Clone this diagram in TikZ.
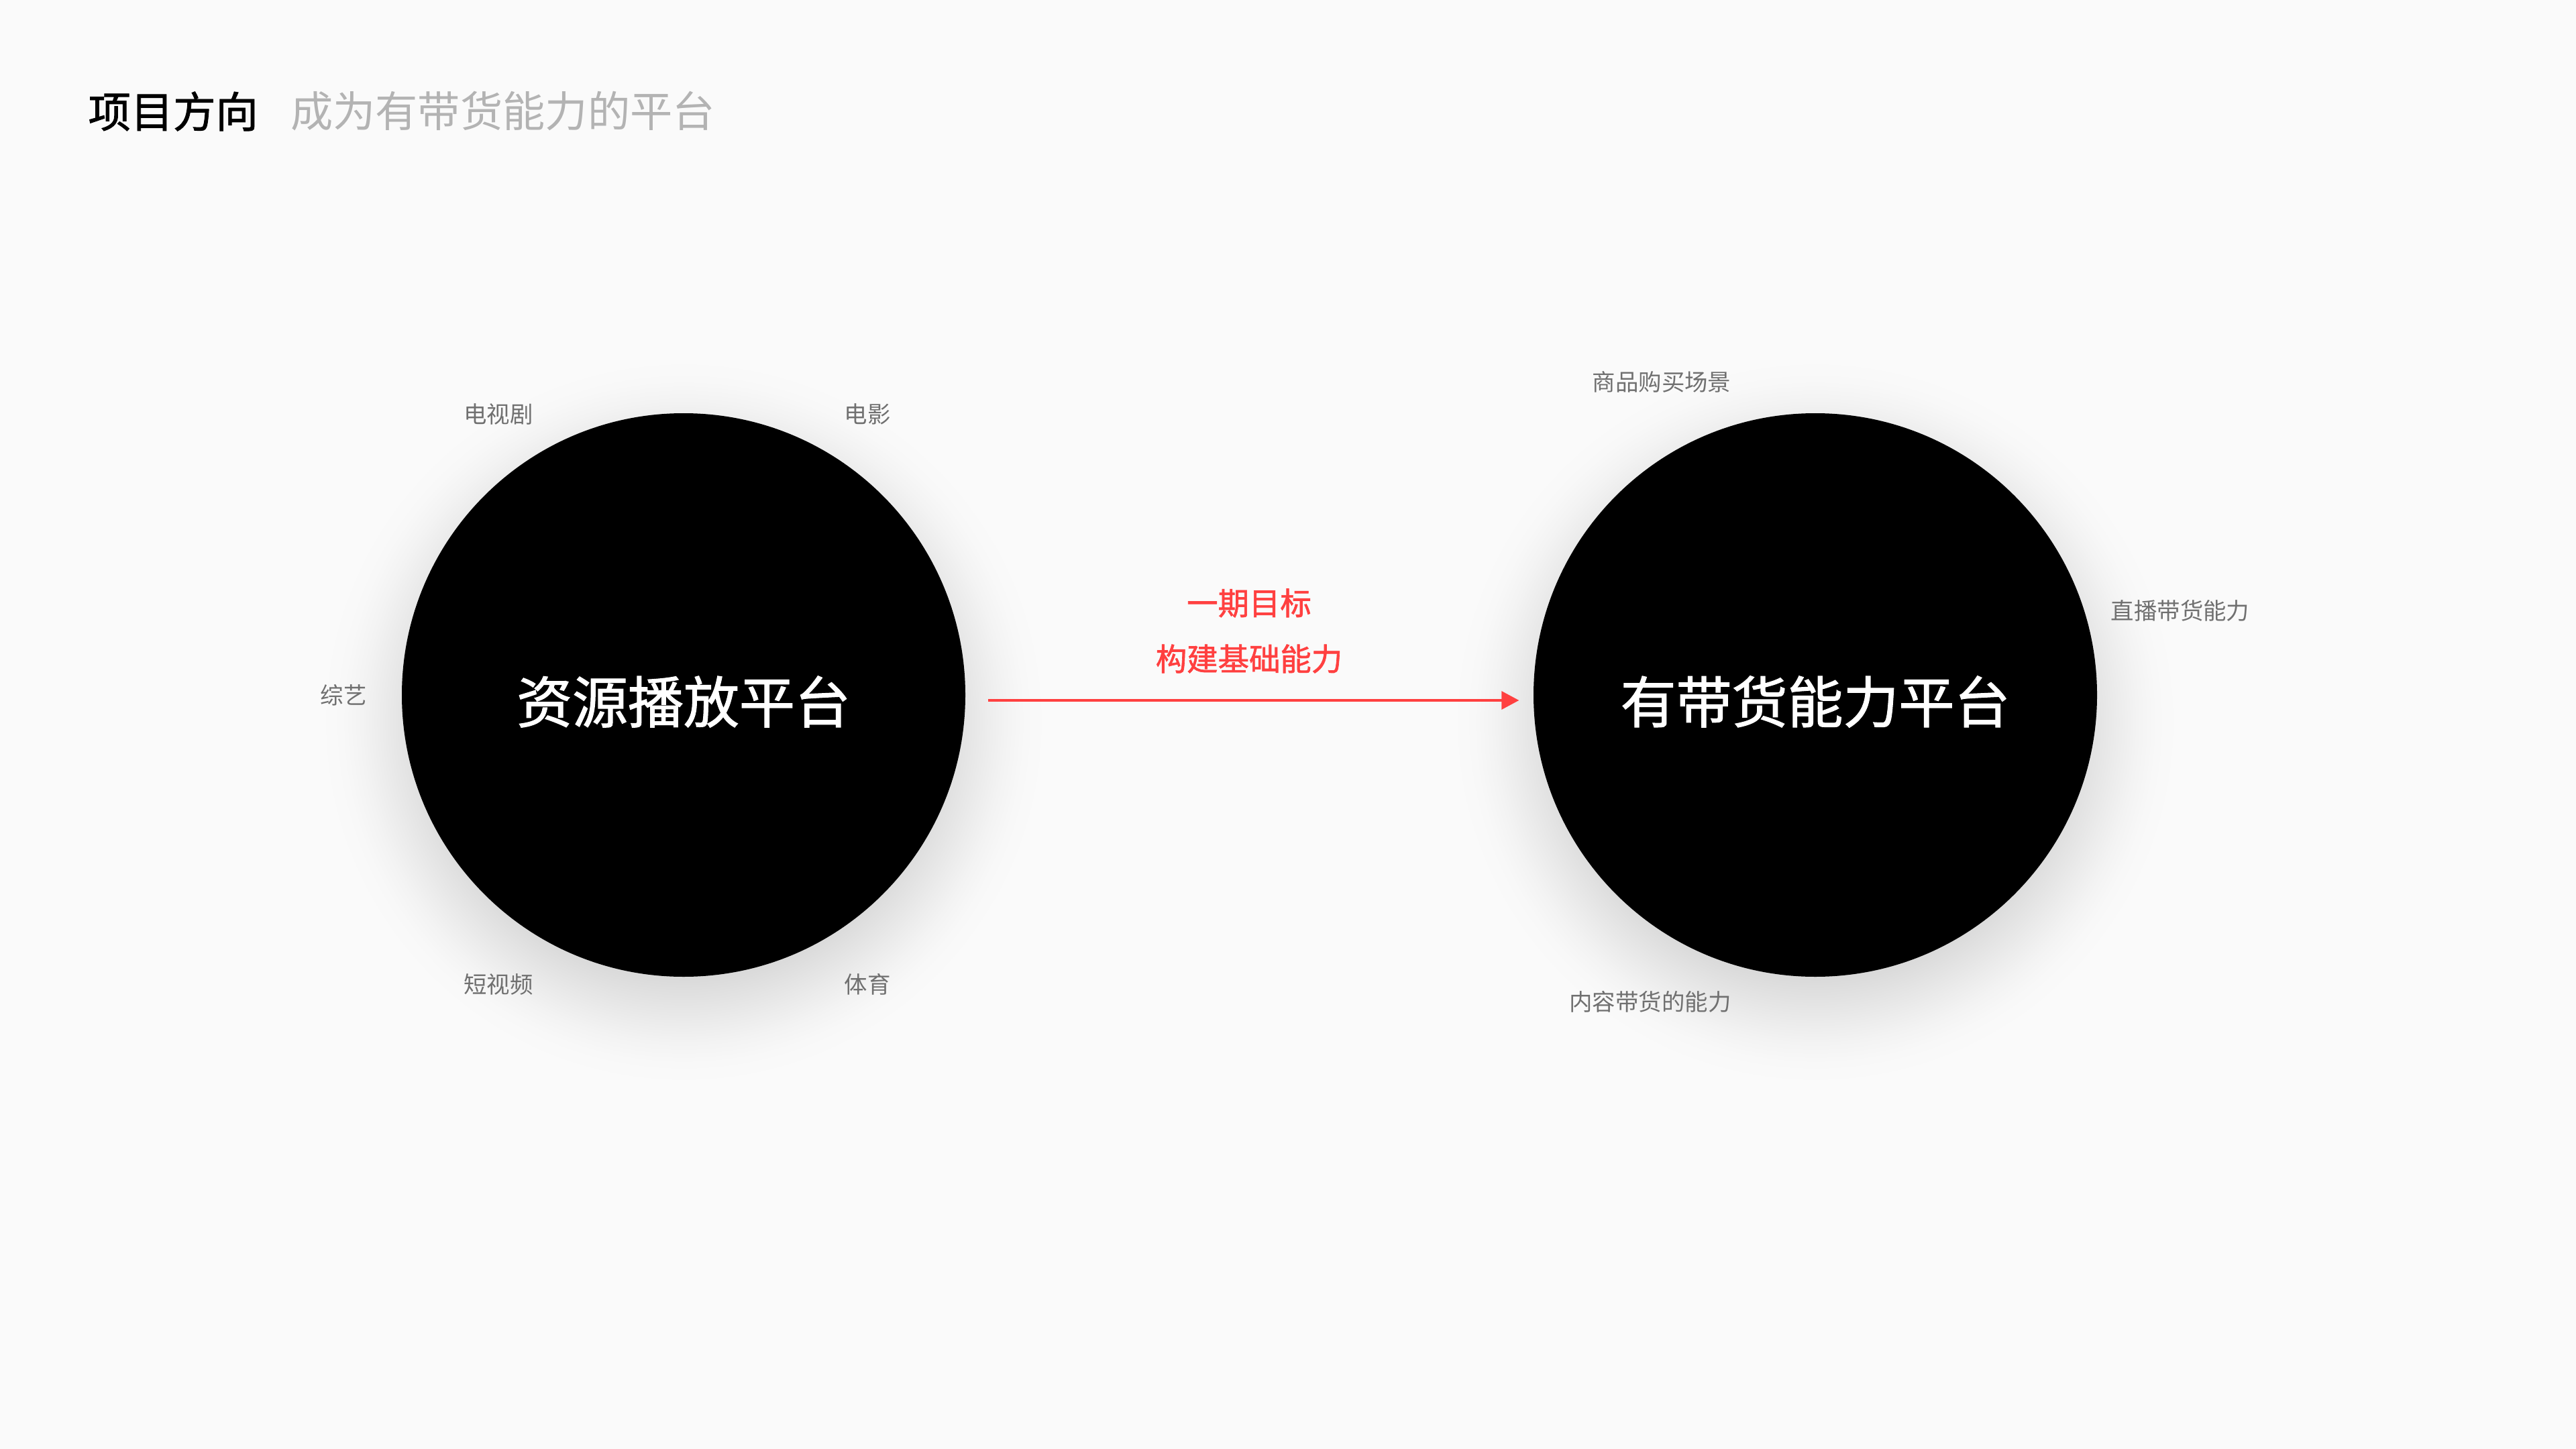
\documentclass[tikz,border=0pt]{standalone}
\usepackage{fontspec}
\setmainfont{Noto Sans CJK SC}
\newfontfamily\cjkmed[FakeBold=1.4]{Noto Sans CJK SC}
\usetikzlibrary{arrows.meta,positioning}
\definecolor{bgwhite}{RGB}{250,250,250}
\definecolor{titlegray}{RGB}{179,179,179}
\definecolor{labelgray}{RGB}{112,112,112}
\definecolor{goalred}{RGB}{255,64,64}
\pgfdeclareradialshading{platshadow}{\pgfpoint{0bp}{0bp}}{%
  gray(0bp)=(0.83); gray(16.65bp)=(0.83); gray(18.05bp)=(0.862); gray(19.45bp)=(0.894);
  gray(20.85bp)=(0.925); gray(22.2bp)=(0.953); gray(23.6bp)=(0.973); gray(25bp)=(0.98);
  gray(50bp)=(0.98)}

\begin{document}
\begin{tikzpicture}[
  platnode/.style={circle, fill=black, text=white, minimum size=8.4cm, inner sep=0pt,
    font=\cjkmed\fontsize{23.6pt}{28pt}\selectfont},
  shadowdisc/.style={shading=platshadow},
  tagnode/.style={inner sep=0pt, text=labelgray, font=\fontsize{9.8pt}{12pt}\selectfont},
  goalnode/.style={inner sep=0pt, text=goalred, font=\cjkmed\fontsize{13.2pt}{16pt}\selectfont}]
\fill[bgwhite] (0,0) rectangle (38.4,-21.6);
\useasboundingbox (0,0) rectangle (38.4,-21.6);
% Title
\node[inner sep=0pt, anchor=west, font=\cjkmed\fontsize{18pt}{22pt}\selectfont] (title) at (1.31,-1.66) {项目方向};
\node[inner sep=0pt, anchor=west, right=0.47cm of title, text=titlegray, font=\fontsize{18pt}{22pt}\selectfont] (subtitle) {成为有带货能力的平台};
% Platforms
\coordinate (playc) at (10.19,-10.36);
\coordinate (goodsc) at (27.06,-10.36);
\shade[shadowdisc] ([yshift=-0.4cm]playc) circle (5.4cm);
\shade[shadowdisc] ([yshift=-0.4cm]goodsc) circle (5.4cm);
\node[platnode] (playplat) at (playc) {\raisebox{-0.1cm}[\height][\depth]{资源播放平台}};
\node[platnode] (goodsplat) at (goodsc) {\raisebox{-0.1cm}[\height][\depth]{有带货能力平台}};
% Resources around the left circle
\node[tagnode] (tv) at (7.43,-6.17) {电视剧};
\node[tagnode] (film) at (12.93,-6.17) {电影};
\node[tagnode] (variety) at (5.12,-10.36) {综艺};
\node[tagnode] (shortvid) at (7.43,-14.67) {短视频};
\node[tagnode] (sports) at (12.93,-14.67) {体育};
% Abilities around the right circle
\node[tagnode] (scene) at (24.77,-5.69) {商品购买场景};
\node[tagnode] (live) at (32.50,-9.10) {直播带货能力};
\node[tagnode] (content) at (24.60,-14.93) {内容带货的能力};
% Arrow
\draw[-{Triangle[length=0.26cm, width=0.27cm]}, goalred, line width=0.033cm]
  ([xshift=0.33cm, yshift=-0.08cm]playplat.east) -- ([xshift=-0.21cm, yshift=-0.08cm]goodsplat.west);
% Goal
\node[goalnode] (phase) at (18.62,-8.99) {一期目标};
\node[goalnode] (goal) at (18.62,-9.82) {构建基础能力};
\end{tikzpicture}
\end{document}
